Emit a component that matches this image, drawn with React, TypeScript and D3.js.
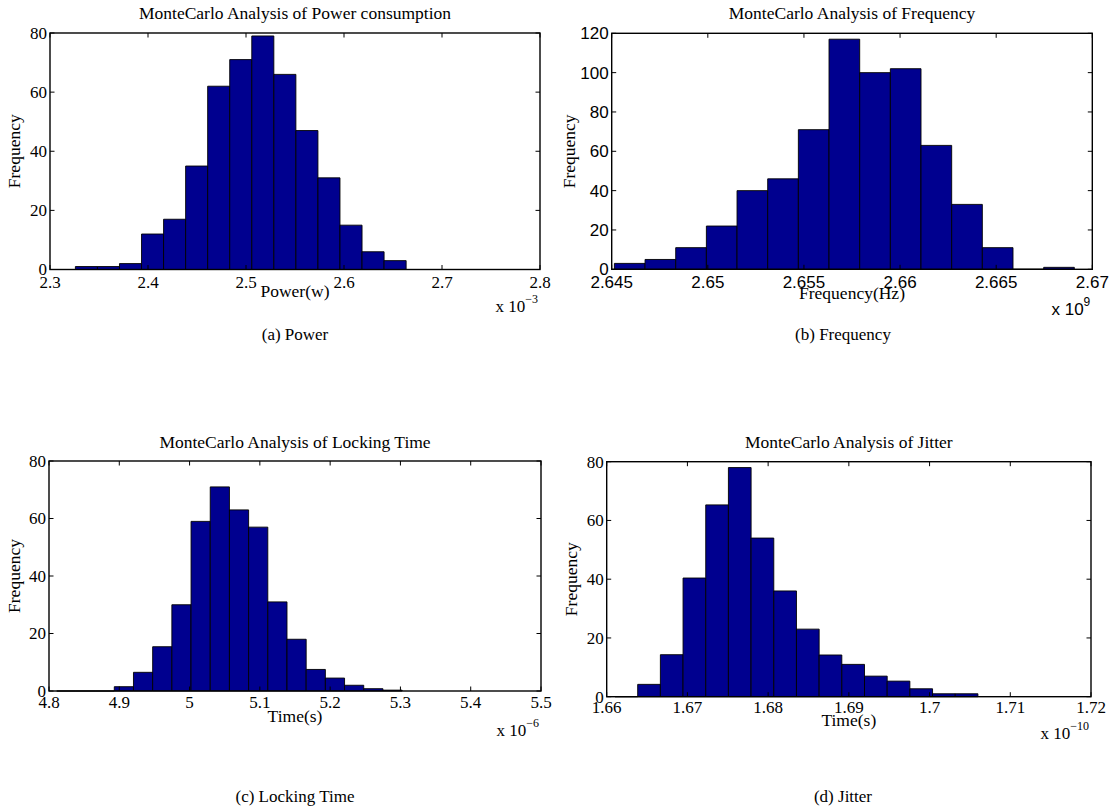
import React, { useEffect, useRef } from 'react';
import * as d3 from 'd3';

// histogram counts (x values are in the scaled units shown on the axis)
const powerCounts = [0, 1, 1, 2, 12, 17, 35, 62, 71, 79, 66, 47, 31, 15, 6, 3];
const powerBinStart = 2.3034;
const powerBinWidth = 0.0225;
const powerXTicks = [2.3, 2.4, 2.5, 2.6, 2.7, 2.8];
const powerYTicks = [0, 20, 40, 60, 80];

const freqCounts = [3, 5, 11, 22, 40, 46, 71, 117, 100, 102, 63, 33, 11, 0, 1];
const freqBinStart = 2.64514;
const freqBinWidth = 0.001595;
const freqXTicks = [2.645, 2.65, 2.655, 2.66, 2.665, 2.67];
const freqYTicks = [0, 20, 40, 60, 80, 100, 120];

const lockCounts = [0, 0, 0, 1.5, 6.5, 15.4, 30, 59, 71, 63, 57, 31, 18, 7.5, 4.5, 2, 0.8, 0.3];
const lockBinStart = 4.811;
const lockBinWidth = 0.0273;
const lockXTicks = [4.8, 4.9, 5, 5.1, 5.2, 5.3, 5.4, 5.5];
const lockYTicks = [0, 20, 40, 60, 80];

const jitterCounts = [0, 4.2, 14.3, 40.4, 65.3, 78, 54, 36, 23, 14.2, 11, 7, 5.3, 2.7, 1, 1];
const jitterBinStart = 1.66103;
const jitterBinWidth = 0.00281;
const jitterXTicks = [1.66, 1.67, 1.68, 1.69, 1.7, 1.71, 1.72];
const jitterYTicks = [0, 20, 40, 60, 80];

const SERIF = '"Liberation Serif", "Times New Roman", serif';
const SANS = '"Liberation Sans", Arial, sans-serif';
const BAR = '#00008f';

const panels = [
  {
    title: 'MonteCarlo Analysis of Power consumption', xlabel: 'Power(w)', exp: '\u22123', caption: '(a) Power',
    counts: powerCounts, start: powerBinStart, width: powerBinWidth, xTicks: powerXTicks, yTicks: powerYTicks,
    left: 50, right: 540, top: 33, bottom: 269.5, titleY: 19, tickY: 288, labelY: 297, expY: 311.5, capX: 295, capY: 340, ylabX: 20, tickFont: SERIF,
  },
  {
    title: 'MonteCarlo Analysis of Frequency', xlabel: 'Frequency(Hz)', exp: '9', caption: '(b) Frequency',
    counts: freqCounts, start: freqBinStart, width: freqBinWidth, xTicks: freqXTicks, yTicks: freqYTicks,
    left: 611.7, right: 1092.3, top: 33.3, bottom: 269.3, titleY: 19, tickY: 288, labelY: 299, expY: 315, capX: 843, capY: 340, ylabX: 575, tickFont: SANS,
  },
  {
    title: 'MonteCarlo Analysis of Locking Time', xlabel: 'Time(s)', exp: '\u22126', caption: '(c) Locking Time',
    counts: lockCounts, start: lockBinStart, width: lockBinWidth, xTicks: lockXTicks, yTicks: lockYTicks,
    left: 49, right: 541, top: 461, bottom: 691, titleY: 448, tickY: 707.5, labelY: 722, expY: 736, capX: 295, capY: 802, ylabX: 20, tickFont: SERIF,
  },
  {
    title: 'MonteCarlo Analysis of Jitter', xlabel: 'Time(s)', exp: '\u221210', caption: '(d) Jitter',
    counts: jitterCounts, start: jitterBinStart, width: jitterBinWidth, xTicks: jitterXTicks, yTicks: jitterYTicks,
    left: 606.7, right: 1091, top: 461.7, bottom: 696.7, titleY: 448, tickY: 713, labelY: 726, expY: 739, capX: 843, capY: 802, ylabX: 577, tickFont: SERIF,
  },
];

export default function App() {
  const ref = useRef<SVGSVGElement>(null);

  useEffect(() => {
    const svg = d3.select(ref.current);
    svg.selectAll('*').remove();

    panels.forEach(p => {
      const x = d3.scaleLinear()
        .domain([p.xTicks[0], p.xTicks[p.xTicks.length - 1]])
        .range([p.left, p.right]);
      const y = d3.scaleLinear()
        .domain([0, p.yTicks[p.yTicks.length - 1]])
        .range([p.bottom, p.top]);

      const g = svg.append('g');

      // bars (zero counts collapse onto the axis like matlab does)
      g.append('g')
        .selectAll('path')
        .data(p.counts)
        .enter()
        .append('path')
        .attr('d', (c, i) => {
          const x0 = x(p.start + i * p.width);
          const x1 = x(p.start + (i + 1) * p.width);
          return `M${x0},${y(0)}V${y(c)}H${x1}V${y(0)}Z`;
        })
        .attr('fill', BAR)
        .attr('stroke', '#000')
        .attr('stroke-width', 0.9);

      // ticks pointing inwards on all four sides
      const tk = 4.5;
      const ticks = g.append('g').attr('stroke', '#000').attr('stroke-width', 1);
      p.xTicks.forEach(v => {
        ticks.append('line').attr('x1', x(v)).attr('x2', x(v)).attr('y1', p.bottom).attr('y2', p.bottom - tk);
        ticks.append('line').attr('x1', x(v)).attr('x2', x(v)).attr('y1', p.top).attr('y2', p.top + tk);
      });
      p.yTicks.forEach(v => {
        ticks.append('line').attr('x1', p.left).attr('x2', p.left + tk).attr('y1', y(v)).attr('y2', y(v));
        ticks.append('line').attr('x1', p.right).attr('x2', p.right - tk).attr('y1', y(v)).attr('y2', y(v));
      });

      g.append('rect')
        .attr('x', p.left).attr('y', p.top)
        .attr('width', p.right - p.left).attr('height', p.bottom - p.top)
        .attr('fill', 'none').attr('stroke', '#000').attr('stroke-width', 1.4);

      // tick labels
      g.append('g')
        .selectAll('text')
        .data(p.xTicks)
        .enter()
        .append('text')
        .attr('x', d => x(d))
        .attr('y', p.tickY)
        .attr('text-anchor', 'middle')
        .style('font-family', p.tickFont)
        .style('font-size', '17px')
        .text(d => String(d));

      g.append('g')
        .selectAll('text')
        .data(p.yTicks)
        .enter()
        .append('text')
        .attr('x', p.left - 3)
        .attr('y', d => y(d))
        .attr('dy', '0.35em')
        .attr('text-anchor', 'end')
        .style('font-family', p.tickFont)
        .style('font-size', '17px')
        .text(d => String(d));

      // title, labels, exponent, caption
      g.append('text')
        .attr('x', (p.left + p.right) / 2).attr('y', p.titleY)
        .attr('text-anchor', 'middle')
        .style('font-family', SERIF).style('font-size', '17.5px')
        .text(p.title);

      g.append('text')
        .attr('x', (p.left + p.right) / 2).attr('y', p.labelY)
        .attr('text-anchor', 'middle')
        .style('font-family', SERIF).style('font-size', '17.5px')
        .text(p.xlabel);

      g.append('text')
        .attr('transform', `translate(${p.ylabX},${(p.top + p.bottom) / 2}) rotate(-90)`)
        .attr('text-anchor', 'middle')
        .style('font-family', SERIF).style('font-size', '17.5px')
        .text('Frequency');

      const ex = g.append('text')
        .attr('x', p.right - 2).attr('y', p.expY)
        .attr('text-anchor', 'end')
        .style('font-family', p.tickFont).style('font-size', '17px');
      ex.append('tspan').text('x 10');
      ex.append('tspan').attr('dy', -9).style('font-size', '12px').text(p.exp);

      g.append('text')
        .attr('x', p.capX).attr('y', p.capY)
        .attr('text-anchor', 'middle')
        .style('font-family', SERIF).style('font-size', '17px')
        .text(p.caption);
    });
  }, []);

  return (
    <svg ref={ref} width={1114} height={810}
      style={{ position: 'absolute', left: 0, top: 0, background: '#fff' }} />
  );
}
